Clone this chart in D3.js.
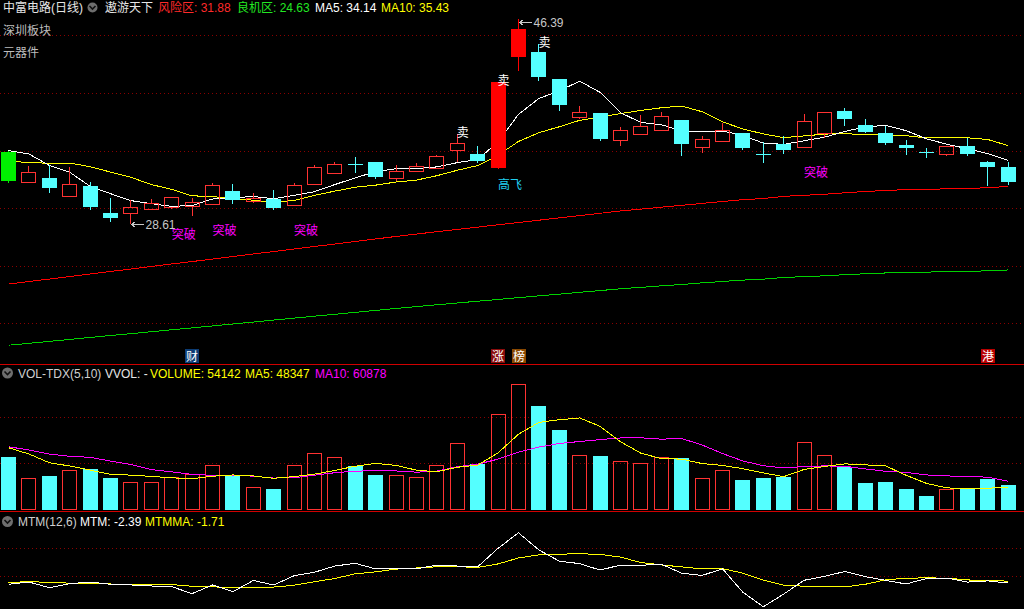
<!DOCTYPE html>
<html><head><meta charset="utf-8">
<script src="https://cdn.jsdelivr.net/npm/d3@7"></script>
<style>html,body{margin:0;padding:0;background:#000;overflow:hidden}</style>
</head><body>
<svg id="c" width="1024" height="609"></svg>
<script>
// ---------------- data ----------------
const opens  = [34.90,32.24,32.61,31.08,31.92,29.57,29.55,29.95,30.07,30.18,30.38,31.48,30.62,30.79,30.30,32.07,33.02,33.83,34.00,32.59,33.19,33.51,35.02,34.67,33.51,43.12,43.55,41.21,37.93,38.23,35.94,36.46,36.81,37.65,35.28,35.82,36.52,34.72,35.56,35.33,36.55,38.43,37.21,36.52,35.48,34.83,34.67,35.39,34.03,33.57];
const highs  = [34.95,33.65,33.74,33.59,32.29,30.90,30.70,30.79,30.94,30.85,32.18,32.09,31.28,31.57,32.18,33.74,34.00,34.46,34.00,33.72,33.91,34.61,36.43,35.39,40.91,46.39,44.22,41.21,38.89,38.23,37.01,38.08,38.32,37.65,36.26,37.41,36.52,35.71,36.26,38.17,38.32,38.69,37.73,37.15,35.89,35.22,35.35,36.06,34.11,34.00];
const lows   = [32.30,32.24,31.42,30.99,29.90,28.91,28.61,29.95,29.90,29.34,30.30,30.42,30.47,29.92,30.25,32.07,33.02,33.11,32.59,32.38,33.19,33.45,33.98,34.03,33.51,41.99,41.12,38.52,37.73,35.91,35.42,36.46,36.76,34.61,34.81,35.74,35.13,34.03,34.81,35.33,36.06,37.24,36.63,35.59,34.72,34.46,34.55,34.64,32.03,32.12];
const closes = [32.38,33.11,31.77,32.09,30.12,29.17,30.10,30.42,30.94,30.50,31.98,30.70,30.90,30.01,31.98,33.54,33.80,33.80,32.73,33.22,33.63,34.50,35.65,34.09,40.91,45.55,41.38,38.95,38.32,36.02,36.75,37.13,37.99,35.59,35.96,36.78,35.22,34.66,35.04,37.53,38.32,37.73,36.63,35.68,35.24,34.81,35.35,34.70,33.57,32.27];
const volumes = [111480,67090,71870,83750,86460,67710,58750,58760,69170,76040,94170,71880,48330,44790,94160,119170,110830,92710,73960,73330,69160,94180,140010,96880,200420,262920,217710,167710,115000,113540,102500,98330,111460,109380,67080,83750,63540,67710,70420,142080,115000,90583,57290,59380,44790,30210,44170,46880,66335,54142];
// closes / volumes of the days before the first visible bar (needed by MA / MTM)
const priorCloses  = [37.00,37.80,37.20,37.50,36.98,35.24,35.15,35.84,34.72,32.16,32.03,33.20,33.88,34.64,36.70,35.08,36.20];
const priorVolumes = [136100,154900,131750,107500,144750,132600,162400,118250,129250];
// 风险区 / 良机区 lines
const riskLine   = [23.41,23.63,23.84,24.06,24.28,24.50,24.71,24.93,25.15,25.36,25.58,25.80,26.02,26.23,26.45,26.67,26.88,27.10,27.32,27.54,27.75,27.95,28.15,28.35,28.55,28.75,28.95,29.15,29.35,29.55,29.75,29.91,30.08,30.24,30.41,30.57,30.73,30.83,31.02,31.11,31.20,31.33,31.44,31.53,31.60,31.61,31.68,31.70,31.77,31.88];
const chanceLine = [18.10,18.26,18.43,18.60,18.77,18.94,19.10,19.27,19.44,19.60,19.77,19.94,20.11,20.28,20.45,20.62,20.78,20.95,21.12,21.29,21.45,21.61,21.76,21.92,22.07,22.23,22.38,22.53,22.69,22.84,23.00,23.12,23.25,23.37,23.51,23.63,23.75,23.83,23.98,24.05,24.12,24.22,24.30,24.37,24.43,24.44,24.49,24.50,24.56,24.63];
const priceGridTicks = [45,40,35,30,25,20];
const volGridTicks = [98300,194200];
const mtmGridTicks = [0,10];
const sellDays = [22,24,26];
const breakDays = [8,10,14,39];
const soarDays = [24];
const tagDays = [9,24,25,48];
const tagTexts = ['财','涨','榜','港'];
const stockName = '中富电路(日线)';
const sectorLabels = ['深圳板块','元器件'];

// ---------------- setup ----------------
const W = 1024, H = 609;
const svg = d3.select('#c');
svg.append('rect').attr('width', W).attr('height', H).attr('fill', '#000');
const LAT = 'Liberation Sans, Arial, Noto Sans CJK SC, sans-serif';

const N = closes.length;
const x = d3.scaleBand().domain(d3.range(N)).range([-1.7, 1018.3]).padding(0);
const cx = i => x(i) + x.step() / 2;
const yP = d3.scaleLinear().domain([20, 45]).range([323.3, 35.3]);
const yV = d3.scaleLinear().domain([0, 100000]).range([510.5, 462.5]);
const yM = d3.scaleLinear().domain([0, 10]).range([576.3, 548.3]);

// indicators
const allC = priorCloses.concat(closes), offC = priorCloses.length;
const allV = priorVolumes.concat(volumes), offV = priorVolumes.length;
const maOf = (arr, off, n) => closes.map((_, i) => d3.mean(arr.slice(i + off - n + 1, i + off + 1)));
const ma5 = maOf(allC, offC, 5), ma10 = maOf(allC, offC, 10);
const vma5 = maOf(allV, offV, 5), vma10 = maOf(allV, offV, 10);
const mtmAt = k => allC[k] - allC[k - 12];
const mtm = closes.map((_, i) => mtmAt(i + offC));
const mtmma = closes.map((_, i) => d3.mean(d3.range(i + offC - 5, i + offC + 1).map(mtmAt)));

// ---------------- grids & separators ----------------
const grid = svg.append('g').attr('stroke', '#8a0000').attr('stroke-dasharray', '1,3').attr('shape-rendering', 'crispEdges');
const hline = (g, y) => g.append('line').attr('x1', 0).attr('x2', W).attr('y1', Math.round(y) + 0.5).attr('y2', Math.round(y) + 0.5);
priceGridTicks.forEach(t => hline(grid, yP(t)));
volGridTicks.forEach(t => hline(grid, yV(t)));
mtmGridTicks.forEach(t => hline(grid, yM(t)));
const sep = svg.append('g').attr('stroke', '#d00000').attr('shape-rendering', 'crispEdges');
hline(sep, 364);
hline(sep, 511);

// ---------------- price pane ----------------
const lineP = d3.line().x((d, i) => cx(i)).y(d => yP(d));
const addLine = (g, gen, data, color) => g.append('path').attr('d', gen(data)).attr('fill', 'none').attr('stroke', color).attr('stroke-width', 1).attr('shape-rendering', 'crispEdges');
const pane = svg.append('g');
addLine(pane, lineP, riskLine, '#ff0000');
addLine(pane, lineP, chanceLine, '#00d200');
addLine(pane, lineP, ma10, '#ffff00');
addLine(pane, lineP, ma5, '#ffffff');

const RED = '#ff3232', CYAN = '#54ffff';
const candles = svg.append('g').attr('shape-rendering', 'crispEdges');
closes.forEach((c, i) => {
  const o = opens[i], prev = allC[i + offC - 1];
  const pct = c / prev - 1;
  const left = Math.round(cx(i) - 7.5);
  const mid = left + 7.5;
  const top = Math.round(yP(Math.max(o, c))), bot = Math.round(yP(Math.min(o, c)));
  const hy = Math.round(yP(highs[i])), ly = Math.round(yP(lows[i]));
  const up = c > o;
  let fill = null, stroke = null;
  if (pct >= 0.1) fill = '#ff0000';
  else if (pct <= -0.1) fill = '#00f000';
  else if (up) stroke = RED;
  else fill = CYAN;
  const col = fill || stroke;
  if (stroke) {
    candles.append('line').attr('x1', mid).attr('x2', mid).attr('y1', hy).attr('y2', top).attr('stroke', col);
    candles.append('line').attr('x1', mid).attr('x2', mid).attr('y1', bot + 1).attr('y2', ly).attr('stroke', col);
    candles.append('rect').attr('x', left + 0.5).attr('y', top + 0.5).attr('width', 14).attr('height', Math.max(bot - top, 1))
      .attr('fill', 'none').attr('stroke', col);
  } else {
    candles.append('line').attr('x1', mid).attr('x2', mid).attr('y1', hy).attr('y2', ly + 1).attr('stroke', col);
    candles.append('rect').attr('x', left).attr('y', top).attr('width', 15).attr('height', Math.max(bot - top, 1)).attr('fill', col);
  }
});

// signals
const txt = (g, s, xx, yy, color, size, anchor) => g.append('text').attr('x', xx).attr('y', yy).text(s)
  .attr('fill', color).attr('font-size', size || 12).attr('font-family', LAT).attr('text-anchor', anchor || 'start');
const sig = svg.append('g');
sellDays.forEach(i => txt(sig, '卖', cx(i) - 0.5, yP(highs[i]) + 3, '#ffffff'));
breakDays.forEach(i => txt(sig, '突破', cx(i), yP(lows[i]) + 30, '#ff00ff'));
soarDays.forEach(i => txt(sig, '高飞', cx(i), yP(lows[i]) + 21, '#20d0f0'));

// high / low markers
const hiIdx = d3.maxIndex(highs), loIdx = d3.minIndex(lows);
const marker = (i, val, yy) => {
  const m = sig.append('g').attr('stroke', '#c8c8c8').attr('fill', 'none').attr('shape-rendering', 'crispEdges');
  const x0 = Math.round(cx(i)) + 0.5, yy0 = Math.round(yy) + 0.5;
  m.append('path').attr('d', `M${x0},${yy0}H${x0 + 12}M${x0 + 4},${yy0 - 3}L${x0},${yy0}L${x0 + 4},${yy0 + 3}`);
  txt(sig, val.toFixed(2), x0 + 14, yy + 5, '#c8c8c8');
};
marker(loIdx, lows[loIdx], yP(lows[loIdx]));
marker(hiIdx, highs[hiIdx], yP(highs[hiIdx]) + 3);

// event tags at bottom of price pane
tagDays.forEach((i, k) => {
  const bg = ['#0c3c74', '#8a0c0c', '#8a4800', '#b80000'][k];
  const bx = Math.round(cx(i) - 7);
  sig.append('rect').attr('x', bx).attr('y', 349).attr('width', 14).attr('height', 14).attr('fill', bg);
  txt(sig, tagTexts[k], bx + 7, 360.5, '#ffffff', 12, 'middle');
});

// ---------------- volume pane ----------------
const vol = svg.append('g').attr('shape-rendering', 'crispEdges');
volumes.forEach((v, i) => {
  const left = Math.round(cx(i) - 7.5);
  const top = Math.round(yV(v));
  const up = closes[i] > opens[i];
  if (up) vol.append('rect').attr('x', left + 0.5).attr('y', top + 0.5).attr('width', 14).attr('height', 510 - top - 1).attr('fill', 'none').attr('stroke', RED);
  else vol.append('rect').attr('x', left).attr('y', top).attr('width', 15).attr('height', 510 - top).attr('fill', CYAN);
});
const lineV = d3.line().x((d, i) => cx(i)).y(d => yV(d));
addLine(svg, lineV, vma10, '#ff00ff');
addLine(svg, lineV, vma5, '#ffff00');

// ---------------- MTM pane ----------------
const lineM = d3.line().x((d, i) => cx(i)).y(d => yM(d));
addLine(svg, lineM, mtmma, '#ffff00');
addLine(svg, lineM, mtm, '#ffffff');

// ---------------- headers ----------------
const hdr = svg.append('g');
const chevron = (cx0, cy0, r) => {
  hdr.append('circle').attr('cx', cx0).attr('cy', cy0).attr('r', r).attr('fill', '#6e6e6e');
  hdr.append('path').attr('d', `M${cx0 - 3},${cy0 - 1.5}L${cx0},${cy0 + 1.5}L${cx0 + 3},${cy0 - 1.5}`).attr('stroke', '#111').attr('stroke-width', 1.6).attr('fill', 'none');
};
const last = N - 1;
txt(hdr, stockName, 3, 12, '#e6e6e6');
chevron(92.5, 7.5, 5);
txt(hdr, '遨游天下', 105, 12, '#e6e6e6');
txt(hdr, '风险区: ' + riskLine[last].toFixed(2), 158, 12, '#ff2a2a');
txt(hdr, '良机区: ' + chanceLine[last].toFixed(2), 237, 12, '#22e822');
txt(hdr, 'MA5: ' + ma5[last].toFixed(2), 315, 12, '#ffffff');
txt(hdr, 'MA10: ' + ma10[last].toFixed(2), 381, 12, '#ffff00');
txt(hdr, sectorLabels[0], 3, 35, '#bdbdbd');
txt(hdr, sectorLabels[1], 3, 57, '#bdbdbd');

chevron(7.5, 373, 5.5);
txt(hdr, 'VOL-TDX(5,10)', 18, 377.5, '#d0d0d0');
txt(hdr, 'VVOL: -', 105, 377.5, '#e6e6e6');
txt(hdr, 'VOLUME: ' + volumes[last], 150, 377.5, '#ffff00');
txt(hdr, 'MA5: ' + Math.round(vma5[last]), 245, 377.5, '#ffff00');
txt(hdr, 'MA10: ' + Math.round(vma10[last]), 315, 377.5, '#ff00ff');

chevron(7.5, 521.5, 5.5);
txt(hdr, 'MTM(12,6)', 18, 525.5, '#d0d0d0');
txt(hdr, 'MTM: ' + mtm[last].toFixed(2), 80, 525.5, '#ffffff');
txt(hdr, 'MTMMA: ' + mtmma[last].toFixed(2), 145, 525.5, '#ffff00');
</script>
</body></html>
